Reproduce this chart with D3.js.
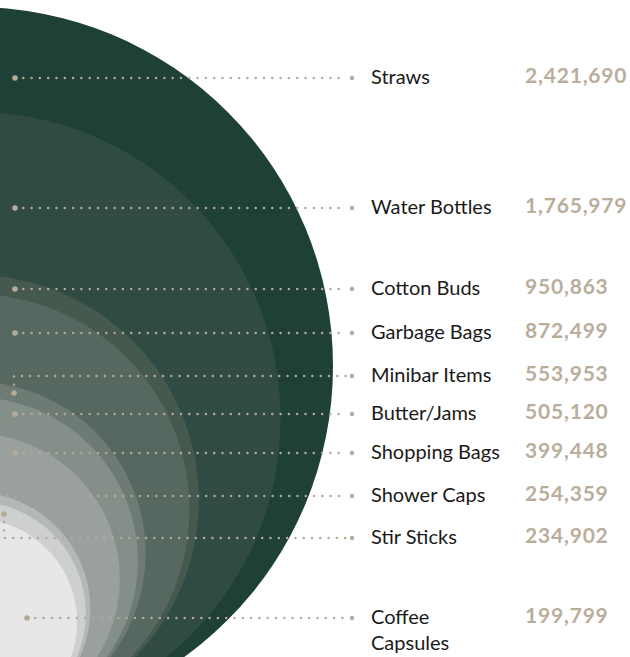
<!DOCTYPE html>
<html>
<head>
<meta charset="utf-8">
<script src="https://cdn.jsdelivr.net/npm/d3@7"></script>
<style>
  html, body { margin: 0; padding: 0; background: #fff; }
  svg { display: block; }
</style>
</head>
<body>
<svg id="chart" width="630" height="657"></svg>
<script>
// ---- data ----
const categories = ["Straws", "Water Bottles", "Cotton Buds", "Garbage Bags", "Minibar Items",
  "Butter/Jams", "Shopping Bags", "Shower Caps", "Stir Sticks", "Coffee Capsules"];
const values = [2421690, 1765979, 950863, 872499, 553953, 505120, 399448, 254359, 234902, 199799];
const valueLabels = ["2,421,690", "1,765,979", "950,863", "872,499", "553,953",
  "505,120", "399,448", "254,359", "234,902", "199,799"];

// ---- styles / layout ----
const fills = ["#1F4037", "#2F4B43", "#45594F", "#56685F", "#6E7B75",
  "#858F8A", "#9AA09D", "#B4B8B6", "#CDD0CE", "#E7E7E7"];
const labelY = [78, 208, 289, 333, 376, 414, 453, 496, 538, 618];
const anchorX = [15, 15, 15, 15, 14, 15, 15, 7, 4, 27];
const anchorY = [78, 208, 289, 333, 393, 414, 453, 496, 514, 618];
const showAnchorDot = [true, true, true, true, true, true, true, false, true, true];

const W = 630, H = 657;
const svg = d3.select("#chart");
const cx = -26, bottom = 725, maxR = 359;
const r = d3.scaleSqrt().domain([0, d3.max(values)]).range([0, maxR]);

const dotColor = "#B5AA98";
const valueColor = "#B9AE9C";
const lineEnd = 352;

// circles, largest first
const data = categories.map((c, i) => ({ c, v: values[i], lab: valueLabels[i], i }));
svg.append("g").selectAll("circle")
  .data(data.slice().sort((a, b) => b.v - a.v))
  .join("circle")
  .attr("cx", cx)
  .attr("cy", d => bottom - r(d.v))
  .attr("r", d => r(d.v))
  .attr("fill", d => fills[d.i]);

// leader lines
const lg = svg.append("g");
data.forEach(d => {
  const i = d.i;
  const ax = anchorX[i], ay = anchorY[i], ly = labelY[i];
  const path = d3.path();
  path.moveTo(ax, ay);
  if (ay !== ly) path.lineTo(ax, ly);
  path.lineTo(lineEnd - 6, ly);
  lg.append("path")
    .attr("d", path.toString())
    .attr("fill", "none")
    .attr("stroke", dotColor)
    .attr("stroke-width", 2.5)
    .attr("stroke-linecap", "round")
    .attr("stroke-dasharray", "0 8.3");
  if (showAnchorDot[i]) {
    lg.append("circle").attr("cx", ax).attr("cy", ay).attr("r", 2.8).attr("fill", dotColor);
  }
  lg.append("circle").attr("cx", lineEnd).attr("cy", ly).attr("r", 2.2).attr("fill", dotColor);
});

// labels
const tg = svg.append("g");
data.forEach(d => {
  const i = d.i;
  const ly = labelY[i];
  const t = tg.append("text")
    .attr("x", 371)
    .attr("y", ly + 6)
    .attr("font-family", "Lato, 'Open Sans', sans-serif")
    .attr("font-size", 20)
    .attr("fill", "#1A1A1A");
  if (d.c === "Coffee Capsules") {
    t.append("tspan").attr("x", 371).attr("dy", 0).text("Coffee");
    t.append("tspan").attr("x", 371).attr("dy", 26).text("Capsules");
  } else {
    t.text(d.c);
  }
  tg.append("text")
    .attr("x", 525)
    .attr("y", ly + 5)
    .attr("font-family", "Lato, 'Open Sans', sans-serif")
    .attr("font-weight", "bold")
    .attr("font-size", 21)
    .attr("letter-spacing", 0.8)
    .attr("fill", valueColor)
    .text(d.lab);
});
</script>
</body>
</html>
